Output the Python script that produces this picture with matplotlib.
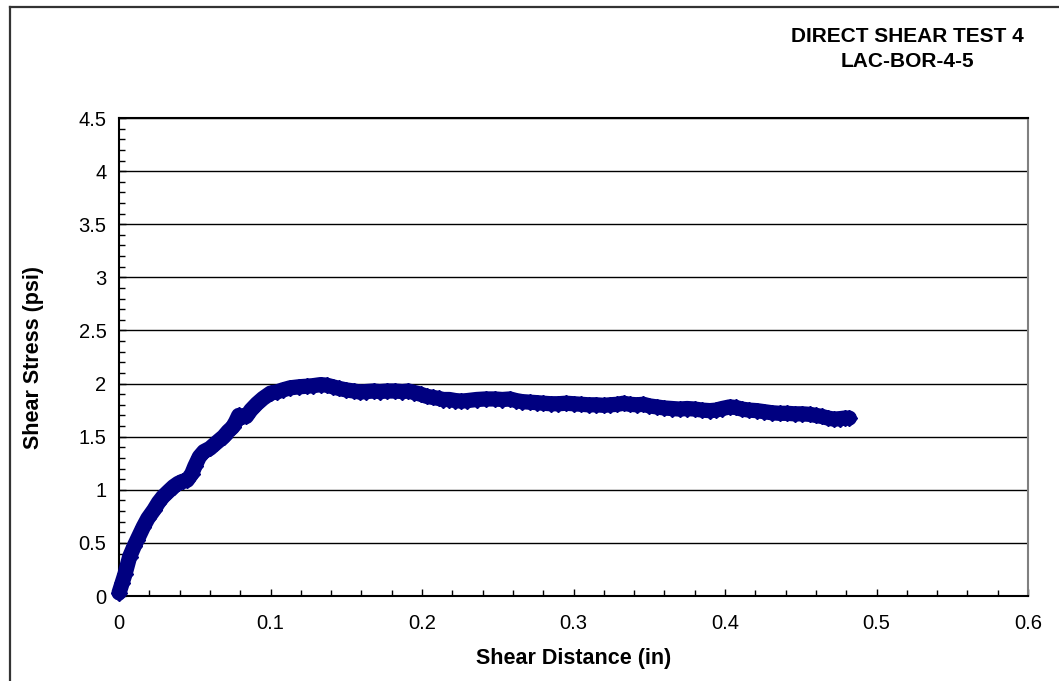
import matplotlib.pyplot as plt
from matplotlib.lines import Line2D
from matplotlib.ticker import MultipleLocator, FuncFormatter

plt.rcParams['font.family'] = ['Liberation Sans', 'DejaVu Sans']

# shear distance (in) and shear stress (psi)
shear_dist = [
    0.000, 0.002, 0.004, 0.007, 0.010, 0.012, 0.016, 0.019, 0.023, 0.026,
    0.029, 0.033, 0.036, 0.039, 0.042, 0.045, 0.048, 0.050, 0.053, 0.056,
    0.060, 0.064, 0.069, 0.072, 0.075, 0.077, 0.079, 0.082, 0.084, 0.087,
    0.091, 0.095, 0.100, 0.104, 0.108, 0.113, 0.119, 0.124, 0.128, 0.133,
    0.137, 0.141, 0.145, 0.150, 0.155, 0.159, 0.163, 0.168, 0.172, 0.177,
    0.182, 0.187, 0.191, 0.195, 0.199, 0.203, 0.207, 0.211, 0.214, 0.218,
    0.222, 0.226, 0.230, 0.236, 0.242, 0.248, 0.253, 0.258, 0.262, 0.266,
    0.271, 0.276, 0.280, 0.285, 0.290, 0.295, 0.300, 0.305, 0.310, 0.315,
    0.320, 0.324, 0.329, 0.333, 0.337, 0.342, 0.346, 0.350, 0.355, 0.360,
    0.365, 0.370, 0.375, 0.380, 0.385, 0.390, 0.394, 0.398, 0.403, 0.407,
    0.411, 0.416, 0.421, 0.426, 0.431, 0.436, 0.441, 0.446, 0.451, 0.456,
    0.460, 0.464, 0.468, 0.472, 0.476, 0.479, 0.482,
]
shear_stress = [
    0.03, 0.12, 0.21, 0.37, 0.47, 0.53, 0.65, 0.73, 0.81, 0.88,
    0.935, 0.99, 1.03, 1.06, 1.08, 1.09, 1.15, 1.22, 1.31, 1.36,
    1.39, 1.44, 1.50, 1.55, 1.59, 1.64, 1.70, 1.69, 1.69, 1.75,
    1.81, 1.86, 1.91, 1.92, 1.94, 1.96, 1.97, 1.975, 1.98, 1.99,
    1.985, 1.97, 1.955, 1.94, 1.93, 1.92, 1.925, 1.93, 1.925, 1.93,
    1.93, 1.925, 1.93, 1.915, 1.90, 1.88, 1.87, 1.86, 1.85, 1.85,
    1.84, 1.835, 1.84, 1.85, 1.855, 1.855, 1.85, 1.855, 1.84, 1.83,
    1.825, 1.82, 1.815, 1.81, 1.81, 1.815, 1.81, 1.805, 1.80, 1.80,
    1.795, 1.80, 1.805, 1.815, 1.805, 1.80, 1.805, 1.79, 1.78, 1.77,
    1.765, 1.76, 1.765, 1.76, 1.75, 1.745, 1.75, 1.765, 1.78, 1.775,
    1.76, 1.75, 1.745, 1.735, 1.725, 1.72, 1.72, 1.715, 1.715, 1.71,
    1.70, 1.69, 1.675, 1.665, 1.67, 1.675, 1.675,
]

title_lines = ['DIRECT SHEAR TEST 4', 'LAC-BOR-4-5']

fig = plt.figure(figsize=(10.59, 6.81), dpi=100)
ax = fig.add_axes([0.1124, 0.1248, 0.8584, 0.7019])

ax.plot(shear_dist, shear_stress, color='#000080', lw=11, marker='D', ms=8.5,
        mfc='#000080', mec='#000080', solid_capstyle='round',
        solid_joinstyle='round', zorder=3, clip_on=False)

ax.set_xlim(0, 0.6)
ax.set_ylim(0, 4.5)
ax.xaxis.set_major_locator(MultipleLocator(0.1))
ax.xaxis.set_minor_locator(MultipleLocator(0.02))
ax.yaxis.set_major_locator(MultipleLocator(0.5))
ax.yaxis.set_minor_locator(MultipleLocator(0.1))
fmt = FuncFormatter(lambda v, pos: '%g' % round(v, 3))
ax.xaxis.set_major_formatter(fmt)
ax.yaxis.set_major_formatter(fmt)
ax.tick_params(which='major', direction='in', length=5, width=1,
               labelsize=14.5)
ax.tick_params(which='minor', direction='in', length=4, width=1)
ax.tick_params(axis='x', which='major', pad=13)
ax.tick_params(axis='y', which='major', pad=9)

ax.grid(axis='y', which='major', color='black', lw=1)
for s in ['left', 'bottom', 'top']:
    ax.spines[s].set_linewidth(1.5)
ax.spines['right'].set_color('#808080')
ax.spines['right'].set_linewidth(1.5)

ax.set_xlabel('Shear Distance (in)', fontsize=15.5, fontweight='bold',
              labelpad=11)
ax.set_ylabel('Shear Stress (psi)', fontsize=15.5, fontweight='bold',
              labelpad=25)

fig.text(0.857, 0.947, title_lines[0], ha='center', va='center',
         fontsize=15, fontweight='bold')
fig.text(0.857, 0.910, title_lines[1], ha='center', va='center',
         fontsize=15, fontweight='bold')

# chart area frame (left and top edges)
fig.add_artist(Line2D([10 / 1059, 10 / 1059], [0, 1 - 7 / 681],
                      transform=fig.transFigure, color='#333333', lw=1.6))
fig.add_artist(Line2D([10 / 1059, 1], [1 - 7 / 681, 1 - 7 / 681],
                      transform=fig.transFigure, color='#333333', lw=1.6))

fig.savefig('out.png', dpi=100)
